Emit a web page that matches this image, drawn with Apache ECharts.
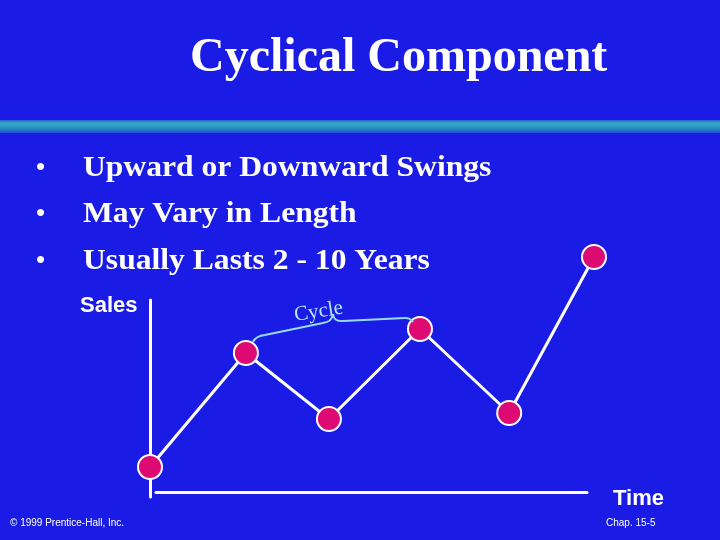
<!DOCTYPE html>
<html>
<head>
<meta charset="utf-8">
<script src="https://cdn.jsdelivr.net/npm/echarts@6/dist/echarts.min.js"></script>
<style>
  html, body { margin: 0; padding: 0; background: #1b1be6; }
  #chart { width: 720px; height: 540px; }
</style>
</head>
<body>
<div id="chart"></div>
<script>
// time positions (0-100) and sales level (0-100)
var timePoints = [0, 21.6, 40.3, 60.8, 80.9, 100];
var salesValues = [12.5, 60, 32.5, 70, 35, 100];
var bullets = ["Upward or Downward Swings", "May Vary in Length", "Usually Lasts 2 - 10 Years"];

var chart = echarts.init(document.getElementById("chart"), null, { renderer: "canvas" });

var points = timePoints.map(function (t, i) { return [t, salesValues[i]]; });

var bulletText = [];
bullets.forEach(function (b, i) {
  bulletText.push({
    type: "text", id: "dot" + i, left: 36, top: 155 + i * 46.5,
    style: { text: "\u2022", fill: "#fff", font: "bold 26px 'Liberation Serif', serif" }
  });
  bulletText.push({
    type: "text", id: "bullet" + i, x: 83, y: 154 + i * 46.5, scaleX: 1.09,
    style: { text: b, fill: "#fff", font: "bold 29px 'Liberation Serif', serif" }
  });
});

chart.setOption({
  backgroundColor: "#1b1be6",
  animation: false,
  grid: [
    { left: 150, top: 257, width: 444, height: 240 },
    { left: 150, top: 300, width: 1, height: 197 },
    { left: 156, top: 300, width: 431, height: 192 }
  ],
  xAxis: [
    { gridIndex: 0, type: "value", min: 0, max: 100, show: false },
    { gridIndex: 1, type: "value", show: false },
    { gridIndex: 2, type: "value", min: 0, max: 1,
      axisLine: { show: true, lineStyle: { color: "#fff", width: 3 } },
      axisTick: { show: false }, axisLabel: { show: false }, splitLine: { show: false } }
  ],
  yAxis: [
    { gridIndex: 0, type: "value", min: 0, max: 100, show: false },
    { gridIndex: 1, type: "value", min: 0, max: 1,
      axisLine: { show: true, lineStyle: { color: "#fff", width: 3 } },
      axisTick: { show: false }, axisLabel: { show: false }, splitLine: { show: false } },
    { gridIndex: 2, type: "value", show: false }
  ],
  series: [{
    type: "line",
    xAxisIndex: 0, yAxisIndex: 0,
    data: points,
    lineStyle: { color: "#fff", width: 3 },
    symbol: "circle",
    symbolSize: 24,
    itemStyle: { color: "#dc0a72", borderColor: "#fff", borderWidth: 2 },
    clip: false,
    z: 5
  }],
  graphic: [
    { type: "rect", id: "bar", left: 0, top: 120, shape: { width: 720, height: 13 },
      style: { fill: new echarts.graphic.LinearGradient(0, 0, 0, 1, [
        { offset: 0, color: "#2860d0" },
        { offset: 0.25, color: "#38aac8" },
        { offset: 0.6, color: "#2894c0" },
        { offset: 1, color: "#1e4fd0" }
      ]) } },
    { type: "text", id: "title", left: 190, top: 35,
      style: { text: "Cyclical Component", fill: "#fff", font: "bold 48px 'Liberation Serif', serif" } },
    { type: "text", id: "sales", left: 80, top: 295,
      style: { text: "Sales", fill: "#fff", font: "bold 22px 'Liberation Sans', sans-serif" } },
    { type: "text", id: "time", left: 613, top: 488,
      style: { text: "Time", fill: "#fff", font: "bold 22px 'Liberation Sans', sans-serif" } },
    { type: "text", id: "copy", left: 10, top: 518,
      style: { text: "\u00a9 1999 Prentice-Hall, Inc.", fill: "#fff", font: "10px 'Liberation Sans Narrow', 'Liberation Sans', sans-serif" } },
    { type: "text", id: "chap", left: 606, top: 518,
      style: { text: "Chap. 15-5", fill: "#fff", font: "10px 'Liberation Sans Narrow', 'Liberation Sans', sans-serif" } }
  ].concat(bulletText)
});

// brace over one cycle, anchored to the second and fourth points
var a = chart.convertToPixel({ gridIndex: 0 }, points[1]);
var b = chart.convertToPixel({ gridIndex: 0 }, points[3]);
var sx = a[0] + 7, sy = a[1] - 11;
var ex = b[0] - 7, ey = b[1] - 7;
var tx = sx + (ex - sx) * 0.5, ty = Math.min(sy, ey) - 8;
var braceStyle = { fill: null, stroke: "#96dcf4", lineWidth: 2 };
function curve(id, x1, y1, cx, cy, x2, y2) {
  return { type: "bezierCurve", id: id, shape: { x1: x1, y1: y1, cpx1: cx, cpy1: cy, x2: x2, y2: y2 }, style: braceStyle, z: 10 };
}
function seg(id, x1, y1, x2, y2) {
  return { type: "line", id: id, shape: { x1: x1, y1: y1, x2: x2, y2: y2 }, style: braceStyle, z: 10 };
}
chart.setOption({
  graphic: [
    curve("b1", sx, sy, sx + 3, sy - 6, sx + 12, sy - 7),
    seg("b2", sx + 12, sy - 7, tx - 10, ty + 9),
    curve("b3", tx - 10, ty + 9, tx - 1, ty + 8, tx, ty),
    curve("b4", tx, ty, tx + 1, ty + 8, tx + 10, ty + 7),
    seg("b5", tx + 10, ty + 7, ex - 8, ey - 4),
    curve("b6", ex - 8, ey - 4, ex - 2, ey - 4, ex, ey),
    { type: "text", id: "cycle", x: 296, y: 326, rotation: 9 * Math.PI / 180, z: 10,
      style: { text: "Cycle", fill: "#b4ecff", font: "21px 'Liberation Serif', serif",
        textVerticalAlign: "bottom" } }
  ]
});
</script>
</body>
</html>
